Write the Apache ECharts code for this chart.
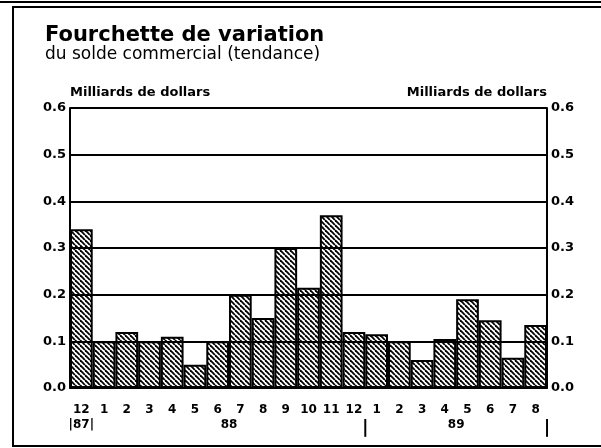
<!DOCTYPE html>
<html>
<head>
<meta charset="utf-8">
<script src="https://cdn.jsdelivr.net/npm/echarts@6/dist/echarts.min.js"></script>
<style>
  html, body { margin: 0; padding: 0; background: #fff; }
  #chart { width: 601px; height: 448px; }
</style>
</head>
<body>
<div id="chart"></div>
<script>
// months from dec 87 to aug 89
const months = ['12', '1', '2', '3', '4', '5', '6', '7', '8', '9', '10', '11', '12', '1', '2', '3', '4', '5', '6', '7', '8']
const values = [0.34, 0.10, 0.12, 0.10, 0.11, 0.05, 0.10, 0.20, 0.15, 0.30, 0.215, 0.37, 0.12, 0.115, 0.10, 0.06, 0.105, 0.19, 0.145, 0.065, 0.135]
// year row under the months (position in bar units)
const yearPos = [0.5, 7, 13, 17, 21]
const yearText = ['|87|', '88', '{sep||}', '89', '{sep||}']
const unitName = 'Milliards de dollars'

const FONT = 'DejaVu Sans'

// diagonal hatch fill
function makeHatch() {
  const s = 5
  const c = document.createElement('canvas')
  c.width = s
  c.height = s
  const ctx = c.getContext('2d')
  ctx.fillStyle = '#fff'
  ctx.fillRect(0, 0, s, s)
  ctx.strokeStyle = '#000'
  ctx.lineWidth = 1.8
  for (const o of [-s, 0, s]) {
    ctx.beginPath()
    ctx.moveTo(o, 0)
    ctx.lineTo(o + s, s)
    ctx.stroke()
  }
  return c
}

const chart = echarts.init(document.getElementById('chart'))

const axisLabelStyle = { color: '#000', fontFamily: FONT, fontWeight: 'bold', fontSize: 13 }

chart.setOption({
  animation: false,
  title: {
    text: 'Fourchette de variation',
    subtext: 'du solde commercial (tendance)',
    left: 40,
    top: 20,
    itemGap: 0,
    textStyle: { color: '#000', fontFamily: FONT, fontWeight: 'bold', fontSize: 21 },
    subtextStyle: { color: '#000', fontFamily: FONT, fontSize: 17 }
  },
  graphic: [
    {
      type: 'rect',
      shape: { x: 13, y: 7, width: 600, height: 439 },
      style: { fill: null, stroke: '#000', lineWidth: 2 },
      silent: true
    },
    {
      type: 'line',
      shape: { x1: 0, y1: 2, x2: 601, y2: 2 },
      style: { stroke: '#000', lineWidth: 2 },
      silent: true
    }
  ],
  grid: { left: 70, right: 54, top: 108, bottom: 60 },
  xAxis: [
    {
      type: 'category',
      data: months,
      axisLine: { lineStyle: { color: '#000', width: 2 } },
      axisTick: { alignWithLabel: true, length: 6, lineStyle: { color: '#000', width: 2 } },
      axisLabel: { ...axisLabelStyle, fontSize: 12, margin: 16, interval: 0 }
    },
    {
      type: 'value',
      position: 'bottom',
      min: 0,
      max: 21,
      interval: 0.5,
      axisLine: { show: false },
      axisTick: { show: false },
      splitLine: { show: false },
      axisLabel: {
        ...axisLabelStyle,
        fontSize: 12,
        margin: 31,
        showMinLabel: true,
        showMaxLabel: true,
        formatter: v => {
          const i = yearPos.indexOf(v)
          return i < 0 ? '' : yearText[i]
        },
        rich: {
          sep: { fontFamily: FONT, fontWeight: 'bold', fontSize: 18, color: '#000' }
        }
      }
    }
  ],
  yAxis: [
    {
      type: 'value',
      min: 0,
      max: 0.6,
      interval: 0.1,
      z: 3,
      name: unitName,
      nameLocation: 'end',
      nameGap: 9,
      nameTextStyle: { ...axisLabelStyle, align: 'left', verticalAlign: 'bottom' },
      axisLine: { show: true, lineStyle: { color: '#000', width: 2 } },
      axisTick: { show: false },
      splitLine: { show: true, lineStyle: { color: '#000', width: 2 } },
      axisLabel: { ...axisLabelStyle, margin: 4, formatter: v => v.toFixed(1) }
    },
    {
      type: 'value',
      position: 'right',
      min: 0,
      max: 0.6,
      interval: 0.1,
      z: 3,
      name: unitName,
      nameLocation: 'end',
      nameGap: 9,
      nameTextStyle: { ...axisLabelStyle, align: 'right', verticalAlign: 'bottom' },
      axisLine: { show: true, lineStyle: { color: '#000', width: 2 } },
      axisTick: { show: false },
      splitLine: { show: false },
      axisLabel: { ...axisLabelStyle, margin: 4, formatter: v => v.toFixed(1) }
    }
  ],
  series: [
    {
      type: 'bar',
      data: values,
      barCategoryGap: '0%',
      itemStyle: {
        color: { image: makeHatch(), repeat: 'repeat' },
        borderColor: '#000',
        borderWidth: 2
      }
    }
  ]
})
</script>
</body>
</html>
